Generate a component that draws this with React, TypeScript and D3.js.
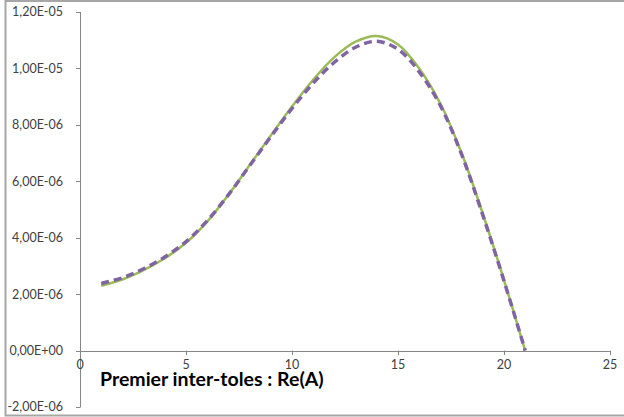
import React from "react";
import * as d3 from "d3";

const xValues = [1, 2, 3, 4, 5, 6, 7, 8, 9, 10, 11, 12, 13, 14, 15, 16, 17, 18, 19, 20, 21];
const seriesSolid = [2.3, 2.52, 2.85, 3.27, 3.82, 4.57, 5.52, 6.57, 7.62, 8.65, 9.6, 10.4, 10.95, 11.15, 10.85, 10.0, 8.75, 7.0, 4.85, 2.5, 0];
const seriesDashed = [2.38, 2.58, 2.9, 3.32, 3.86, 4.6, 5.52, 6.55, 7.58, 8.58, 9.48, 10.22, 10.75, 10.96, 10.68, 9.88, 8.68, 6.95, 4.8, 2.47, 0];
const xTicks = [0, 5, 10, 15, 20, 25];
const yTicks = [-2e-6, 0, 2e-6, 4e-6, 6e-6, 8e-6, 1e-5, 1.2e-5];
const title = "Premier inter-toles : Re(A)";

function fmtY(v: number) {
  if (v === 0) return "0,00E+00";
  const s = v.toExponential(2);
  const [m, e] = s.split("e");
  const exp = parseInt(e, 10);
  const sign = exp < 0 ? "-" : "+";
  const ab = Math.abs(exp).toString().padStart(2, "0");
  return m.replace(".", ",") + "E" + sign + ab;
}

export default function App() {
  const W = 624, H = 417;
  const x = d3.scaleLinear().domain([0, 25]).range([80, 610]);
  const y = d3.scaleLinear().domain([-2e-6, 1.2e-5]).range([407, 12]);
  const line = (vals: number[]) =>
    d3
      .line<number>()
      .x((_, i) => x(xValues[i]))
      .y((d) => y(d * 1e-6))
      .curve(d3.curveCatmullRom.alpha(0.5))(vals) || "";
  const axisColor = "#868686";
  const font = "Lato, 'Open Sans', sans-serif";
  return (
    <svg width={W} height={H} style={{ position: "absolute", left: 0, top: 0, background: "#fff" }}>
      <rect x={5.5} y={1} width={630} height={414.5} fill="#fff" stroke="#a6a6a6" strokeWidth={2} />
      <line x1={80.5} x2={80.5} y1={y(1.2e-5)} y2={y(-2e-6)} stroke={axisColor} />
      {yTicks.map((t) => (
        <g key={t}>
          <line x1={76} x2={80.5} y1={Math.round(y(t)) + 0.5} y2={Math.round(y(t)) + 0.5} stroke={axisColor} />
          <text x={63} y={y(t)} dy="0.35em" textAnchor="end" fontFamily={font} fontSize={12.5} fill="#404040">
            {fmtY(t)}
          </text>
        </g>
      ))}
      <line x1={x(0)} x2={x(25)} y1={Math.round(y(0)) + 0.5} y2={Math.round(y(0)) + 0.5} stroke={axisColor} />
      {xTicks.map((t) => (
        <g key={t}>
          <line x1={Math.round(x(t)) + 0.5} x2={Math.round(x(t)) + 0.5} y1={y(0)} y2={y(0) + 4.5} stroke={axisColor} />
          <text x={x(t)} y={365} dy="0.35em" textAnchor="middle" fontFamily={font} fontSize={12.5} fill="#404040">
            {t}
          </text>
        </g>
      ))}
      <path d={line(seriesSolid)} fill="none" stroke="#9BBB59" strokeWidth={2.5} />
      <path d={line(seriesDashed)} fill="none" stroke="#8064A2" strokeWidth={3.5} strokeDasharray="8,5" />
      <text x={100} y={386} fontFamily={font} fontWeight="bold" fontSize={19.5} fill="#000">
        {title}
      </text>
    </svg>
  );
}
